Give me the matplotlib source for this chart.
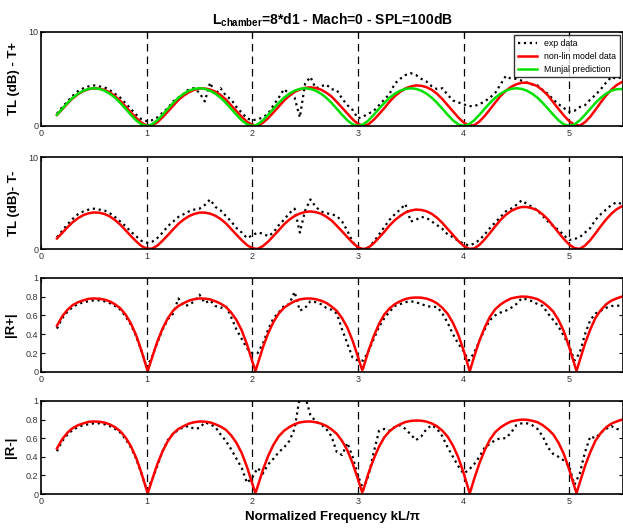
import numpy as np
import matplotlib
matplotlib.use("Agg")
import matplotlib.pyplot as plt

plt.rcParams['font.family'] = ['Liberation Sans', 'DejaVu Sans']
plt.rcParams['mathtext.fontset'] = 'custom'
plt.rcParams['mathtext.rm'] = 'Liberation Sans'
plt.rcParams['mathtext.bf'] = 'Liberation Sans:bold'

# normalized frequency kL/pi
freq = np.round(np.arange(0.15, 5.501, 0.05), 2)

# --- TL (dB) ---
tl_model = [1.16, 1.77, 2.38, 2.94, 3.37, 3.70, 3.90, 3.99, 3.96, 3.82, 3.56, 3.16, 2.66, 2.05, 1.43, 0.85, 0.34, 0.05,
            0.06, 0.38, 0.92, 1.52, 2.15, 2.75, 3.22, 3.58, 3.83, 3.97, 3.97, 3.86, 3.63, 3.28, 2.80, 2.18, 1.57, 0.97, 0.44, 0.10,
            0.03, 0.33, 0.82, 1.43, 2.05, 2.69, 3.20, 3.60, 3.87, 4.04, 4.10, 4.02, 3.85, 3.53, 3.12, 2.54, 1.93, 1.31, 0.70, 0.21,
            0.00, 0.17, 0.65, 1.25, 1.89, 2.58, 3.16, 3.61, 3.98, 4.19, 4.30, 4.26, 4.11, 3.83, 3.40, 2.84, 2.19, 1.55, 0.90, 0.37,
            0.04, 0.07, 0.46, 1.06, 1.75, 2.48, 3.17, 3.73, 4.14, 4.42, 4.58, 4.58, 4.44, 4.21, 3.77, 3.22, 2.51, 1.79, 1.10, 0.51,
            0.12, 0.03, 0.39, 0.98, 1.72, 2.50, 3.23, 3.85, 4.34, 4.66]

tl_munjal = [1.18, 1.82, 2.44, 2.99, 3.42, 3.74, 3.93, 4.00, 3.93, 3.74, 3.42, 2.99, 2.44, 1.82, 1.18, 0.59, 0.16, 0.00,
             0.16, 0.59, 1.18, 1.82, 2.44, 2.99, 3.42, 3.74, 3.93, 4.00, 3.93, 3.74, 3.42, 2.99, 2.44, 1.82, 1.18, 0.59, 0.16, 0.00,
             0.16, 0.59, 1.18, 1.82, 2.44, 2.99, 3.42, 3.74, 3.93, 4.00, 3.93, 3.74, 3.42, 2.99, 2.44, 1.82, 1.18, 0.59, 0.16, 0.00,
             0.16, 0.59, 1.18, 1.82, 2.44, 2.99, 3.42, 3.74, 3.93, 4.00, 3.93, 3.74, 3.42, 2.99, 2.44, 1.82, 1.18, 0.59, 0.16, 0.00,
             0.16, 0.59, 1.18, 1.82, 2.44, 2.99, 3.42, 3.74, 3.93, 4.00, 3.93, 3.74, 3.42, 2.99, 2.44, 1.82, 1.18, 0.59, 0.16, 0.00,
             0.16, 0.59, 1.18, 1.82, 2.44, 2.99, 3.42, 3.74, 3.90, 3.92]

tl_plus_exp = [1.3, 2.0, 2.6, 3.2, 3.7, 4.0, 4.2, 4.3, 4.2, 4.1, 3.8, 3.4, 3.0, 2.4, 1.8, 1.2, 0.7, 0.5,
               0.6, 0.9, 1.4, 1.9, 2.6, 3.0, 3.4, 3.9, 4.0, 3.5, 2.6, 4.6, 3.4, 4.0, 3.2, 2.8, 2.0, 1.4, 0.8, 0.6,
               0.7, 0.9, 1.3, 2.2, 3.0, 3.9, 3.4, 3.0, 0.9, 4.5, 5.2, 4.0, 4.2, 4.4, 3.9, 3.8, 2.9, 2.2, 1.7, 0.8,
               1.0, 1.3, 1.6, 2.2, 2.8, 3.4, 4.5, 5.0, 5.4, 5.6, 5.4, 5.0, 4.7, 4.2, 3.9, 4.0, 3.3, 2.7, 2.5, 2.3,
               2.1, 2.1, 2.3, 2.6, 3.0, 3.5, 4.4, 5.3, 5.0, 5.0, 4.8, 4.6, 4.4, 4.3, 3.8, 3.4, 2.8, 2.3, 1.9, 1.5,
               1.6, 2.0, 2.2, 2.8, 3.3, 3.9, 4.6, 5.2, 5.0, 5.2]

tl_minus_exp = [1.3, 2.0, 2.7, 3.3, 3.8, 4.1, 4.3, 4.4, 4.3, 4.2, 3.9, 3.5, 3.0, 2.5, 1.9, 1.4, 0.9, 0.7,
                0.8, 1.2, 1.8, 2.5, 3.0, 3.5, 3.8, 4.1, 4.3, 4.4, 4.8, 5.4, 4.6, 4.2, 3.6, 3.0, 2.3, 1.8, 1.2, 1.5,
                1.8, 1.7, 1.4, 1.8, 2.6, 3.2, 3.9, 4.4, 1.8, 4.2, 5.4, 4.6, 4.1, 3.9, 3.8, 3.6, 3.0, 2.0, 0.8, 0.1,
                0.0, 0.2, 0.8, 1.6, 2.4, 3.2, 3.8, 4.3, 4.9, 3.0, 3.2, 3.5, 3.4, 3.0, 2.6, 2.2, 1.6, 1.3, 0.9, 0.6,
                0.4, 0.6, 1.0, 1.6, 2.3, 2.9, 3.5, 4.1, 4.4, 4.8, 5.3, 4.9, 4.6, 4.2, 3.6, 3.0, 2.5, 2.1, 1.5, 1.0,
                1.1, 1.3, 1.8, 2.3, 3.2, 3.8, 4.3, 4.8, 5.1, 4.9]

# --- reflection coefficient magnitude ---
r_model = [0.49, 0.59, 0.66, 0.71, 0.74, 0.76, 0.776, 0.78, 0.777, 0.768, 0.749, 0.718, 0.675, 0.608, 0.515, 0.39, 0.226, 0.04,
           0.15, 0.32, 0.46, 0.57, 0.65, 0.70, 0.73, 0.757, 0.772, 0.78, 0.778, 0.77, 0.75, 0.725, 0.69, 0.63, 0.55, 0.44, 0.29, 0.11,
           0.08, 0.26, 0.41, 0.53, 0.62, 0.68, 0.72, 0.75, 0.77, 0.778, 0.78, 0.772, 0.757, 0.733, 0.695, 0.647, 0.57, 0.47, 0.33, 0.16,
           0.04, 0.225, 0.38, 0.51, 0.61, 0.675, 0.72, 0.75, 0.774, 0.786, 0.79, 0.788, 0.778, 0.758, 0.727, 0.68, 0.616, 0.52, 0.395, 0.23,
           0.04, 0.16, 0.33, 0.47, 0.585, 0.665, 0.716, 0.752, 0.78, 0.792, 0.80, 0.798, 0.788, 0.772, 0.74, 0.696, 0.64, 0.55, 0.43, 0.265,
           0.08, 0.12, 0.30, 0.45, 0.575, 0.656, 0.717, 0.757, 0.78, 0.80]
# cusp minima of the model |R| curves
r_cusp_freq = [1.01, 2.03, 3.04, 4.06, 5.07]
r_cusp_val = [0.01, 0.01, 0.02, 0.01, 0.01]

r_plus_exp = [0.46, 0.57, 0.64, 0.69, 0.72, 0.74, 0.75, 0.76, 0.76, 0.75, 0.73, 0.70, 0.66, 0.59, 0.50, 0.38, 0.22, 0.05,
              0.16, 0.31, 0.45, 0.56, 0.62, 0.78, 0.70, 0.71, 0.75, 0.82, 0.73, 0.76, 0.70, 0.68, 0.70, 0.58, 0.45, 0.35, 0.25, 0.20,
              0.20, 0.30, 0.45, 0.57, 0.63, 0.70, 0.72, 0.85, 0.65, 0.68, 0.75, 0.74, 0.72, 0.68, 0.66, 0.62, 0.45, 0.30, 0.15, 0.12,
              0.12, 0.22, 0.35, 0.48, 0.57, 0.64, 0.70, 0.72, 0.74, 0.75, 0.74, 0.72, 0.70, 0.69, 0.69, 0.62, 0.52, 0.40, 0.30, 0.22,
              0.12, 0.20, 0.33, 0.45, 0.55, 0.60, 0.63, 0.65, 0.68, 0.72, 0.78, 0.77, 0.75, 0.72, 0.70, 0.62, 0.55, 0.48, 0.38, 0.28,
              0.12, 0.20, 0.40, 0.55, 0.62, 0.65, 0.68, 0.70, 0.70, 0.71]

r_minus_exp = [0.46, 0.57, 0.64, 0.69, 0.72, 0.74, 0.75, 0.76, 0.76, 0.75, 0.73, 0.70, 0.66, 0.59, 0.50, 0.38, 0.22, 0.05,
               0.15, 0.30, 0.46, 0.58, 0.65, 0.69, 0.72, 0.73, 0.70, 0.71, 0.77, 0.75, 0.72, 0.64, 0.57, 0.48, 0.38, 0.28, 0.12, 0.18,
               0.28, 0.22, 0.32, 0.38, 0.45, 0.50, 0.57, 0.70, 1.05, 1.05, 0.85, 0.78, 0.75, 0.70, 0.62, 0.45, 0.42, 0.55, 0.40, 0.20,
               0.05, 0.20, 0.45, 0.68, 0.70, 0.68, 0.72, 0.74, 0.70, 0.64, 0.58, 0.62, 0.70, 0.74, 0.70, 0.62, 0.50, 0.40, 0.30, 0.22,
               0.26, 0.32, 0.40, 0.50, 0.54, 0.58, 0.60, 0.60, 0.66, 0.74, 0.76, 0.76, 0.74, 0.70, 0.62, 0.50, 0.43, 0.40, 0.36, 0.30,
               0.10, 0.22, 0.45, 0.62, 0.60, 0.66, 0.70, 0.73, 0.70, 0.69]

ylabels = ['TL (dB) - T+', 'TL (dB)- T-', '|R+|', '|R-|']

# merge the cusp points into the |R| model curve
r_f = np.concatenate([freq, r_cusp_freq])
r_v = np.concatenate([r_model, r_cusp_val])
order = np.argsort(r_f)
r_f, r_v = r_f[order], r_v[order]

fig = plt.figure(figsize=(6.23, 5.29), dpi=100)
left, width = 0.066, 0.934
bottoms = [0.762, 0.529, 0.297, 0.066]
heights = [0.178, 0.174, 0.178, 0.176]

exp_sets = [tl_plus_exp, tl_minus_exp, r_plus_exp, r_minus_exp]
model_sets = [(freq, tl_model), (freq, tl_model), (r_f, r_v), (r_f, r_v)]

for i in range(4):
    ax = fig.add_axes([left, bottoms[i], width, heights[i]])
    ax.plot(freq, exp_sets[i], color='black', linestyle=':', linewidth=1.6, label='exp data')
    ax.plot(model_sets[i][0], model_sets[i][1], color='#ff0000', linewidth=1.8, label='non-lin model data')
    if i == 0:
        ax.plot(freq, tl_munjal, color='#00e000', linewidth=1.8, label='Munjal prediction')
    for k in range(1, 6):
        ax.axvline(k, color='black', linestyle=(0, (6, 4)), linewidth=0.9, zorder=0)
    ax.set_xlim(0, 5.51)
    ax.set_xticks([0, 1, 2, 3, 4, 5])
    if i < 2:
        ax.set_ylim(0, 10)
        ax.set_yticks([0, 10])
    else:
        ax.set_ylim(0, 1)
        ax.set_yticks([0, 0.2, 0.4, 0.6, 0.8, 1])
        ax.set_yticklabels(['0', '0.2', '0.4', '0.6', '0.8', '1'])
    ax.tick_params(direction='in', length=3, labelsize=6.5, labelcolor='#333333',
                   top=True, right=True, pad=2)
    for s in ax.spines.values():
        s.set_linewidth(1.2)
    ax.set_ylabel(ylabels[i], fontsize=9.5, fontweight='bold', labelpad=6)
    if i == 0:
        ax.set_title(r'$\mathbf{L_{chamber}}$=8*d1 - Mach=0 - SPL=100dB',
                     fontsize=10, fontweight='bold', pad=5)
        leg = ax.legend(loc='upper right', fontsize=6.3, frameon=True, fancybox=False,
                        handlelength=2.2, borderaxespad=0.4, labelspacing=0.45)
        leg.get_frame().set_edgecolor('black')
        leg.get_frame().set_linewidth(1.0)
    if i == 3:
        ax.set_xlabel('Normalized Frequency kL/π', fontsize=9.5, fontweight='bold', labelpad=4)

fig.savefig('out.png', dpi=100)
